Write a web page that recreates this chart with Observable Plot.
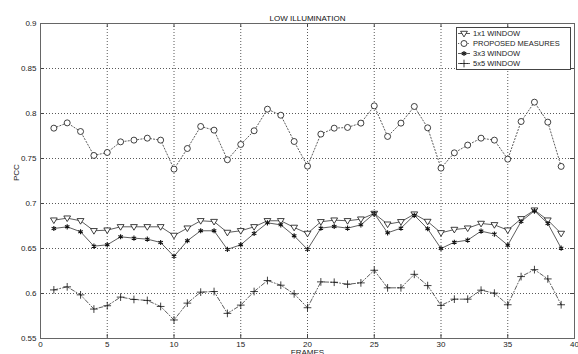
<!DOCTYPE html>
<html>
<head>
<meta charset="utf-8">
<script src="https://cdn.jsdelivr.net/npm/d3@7"></script>
<script src="https://cdn.jsdelivr.net/npm/@observablehq/plot@0.6"></script>
<style>
  body { margin: 0; background: #fff; }
  #wrap { position: relative; width: 578px; height: 354px; overflow: hidden; font-family: "Liberation Sans", Arial, sans-serif; }
  #legend { position: absolute; left: 456px; top: 27px; }
</style>
</head>
<body>
<div id="wrap"><div id="chart"></div><div id="legend"></div></div>
<script>
const frames = [1,2,3,4,5,6,7,8,9,10,11,12,13,14,15,16,17,18,19,20,21,22,23,24,25,26,27,28,29,30,31,32,33,34,35,36,37,38,39];
const win1x1 = [0.6815,0.6837,0.6808,0.6697,0.6704,0.6741,0.6741,0.6741,0.6741,0.6645,0.6726,0.6808,0.6799,0.6678,0.6697,0.6741,0.6808,0.6808,0.6734,0.6667,0.6797,0.6815,0.6808,0.6826,0.6889,0.6770,0.6797,0.6882,0.6800,0.6674,0.6711,0.6726,0.6778,0.6763,0.6704,0.6830,0.6926,0.6815,0.6667];
const proposed = [0.7837,0.7896,0.7800,0.7534,0.7567,0.7685,0.7704,0.7726,0.7704,0.7382,0.7611,0.7856,0.7815,0.7486,0.7656,0.7808,0.8048,0.7981,0.7689,0.7415,0.7771,0.7837,0.7845,0.7893,0.8085,0.7745,0.7893,0.8078,0.7841,0.7393,0.7563,0.7649,0.7726,0.7704,0.7493,0.7911,0.8126,0.7904,0.7412];
const win3x3 = [0.6722,0.6741,0.6686,0.6526,0.6541,0.6630,0.6615,0.6604,0.6567,0.6413,0.6586,0.6697,0.6697,0.6490,0.6541,0.6667,0.6785,0.6763,0.6641,0.6490,0.6726,0.6745,0.6726,0.6763,0.6889,0.6674,0.6726,0.6870,0.6719,0.6500,0.6570,0.6593,0.6693,0.6660,0.6537,0.6800,0.6919,0.6778,0.6504];
const win5x5 = [0.6040,0.6074,0.5985,0.5827,0.5864,0.5960,0.5934,0.5923,0.5856,0.5706,0.5893,0.6015,0.6022,0.5779,0.5871,0.6022,0.6144,0.6092,0.5996,0.5842,0.6129,0.6125,0.6103,0.6118,0.6258,0.6063,0.6063,0.6213,0.6088,0.5868,0.5937,0.5937,0.6037,0.6004,0.5875,0.6188,0.6265,0.6162,0.5875];
const xTicks = [0,5,10,15,20,25,30,35,40];
const yTicks = [0.55,0.6,0.65,0.7,0.75,0.8,0.85,0.9];
const seriesNames = ["1x1 WINDOW","PROPOSED MEASURES","3x3 WINDOW","5x5 WINDOW"];
const title = "LOW ILLUMINATION";
const xLabel = "FRAMES";
const yLabel = "PCC";

const triDown = {
  draw(ctx, size) {
    const r = Math.sqrt(size / Math.PI);
    ctx.moveTo(-r, -0.65 * r);
    ctx.lineTo(r, -0.65 * r);
    ctx.lineTo(0, r);
    ctx.closePath();
  }
};

const rows = (vals) => frames.map((f, i) => ({f, v: vals[i]}));
const W = 578, H = 354, mL = 40, mR = 4, mT = 23, mB = 16;
const pw = W - mL - mR, ph = H - mT - mB;
const lineCol = "#333";

const styles = [
  {vals: win1x1, dash: null, symbol: triDown, r: 3.4, fill: "white", sw: 0.8},
  {vals: proposed, dash: "1.2,2", symbol: "circle", r: 3.0, fill: "white", sw: 0.8},
  {vals: win3x3, dash: null, symbol: "asterisk", r: 2.4, fill: "none", sw: 1.1},
  {vals: win5x5, dash: "4,2,1,2", symbol: "plus", r: 2.6, fill: "none", sw: 0.8}
];

const marks = [
  Plot.gridX(xTicks.slice(1, -1), {stroke: "#222", strokeOpacity: 0.75, strokeDasharray: "1,2"}),
  Plot.gridY(yTicks.slice(1, -1), {stroke: "#222", strokeOpacity: 0.75, strokeDasharray: "1,2"}),
  // inward ticks
  Plot.gridX(xTicks, {stroke: "#444", strokeOpacity: 1, insetBottom: ph - 4}),
  Plot.gridX(xTicks, {stroke: "#444", strokeOpacity: 1, insetTop: ph - 4}),
  Plot.gridY(yTicks, {stroke: "#444", strokeOpacity: 1, insetRight: pw - 4}),
  Plot.gridY(yTicks, {stroke: "#444", strokeOpacity: 1, insetLeft: pw - 4}),
  Plot.frame({stroke: "#666"}),
  Plot.axisX(xTicks, {tickSize: 0, tickPadding: 3, fontSize: 8, fill: "#222", label: null}),
  Plot.axisY(yTicks, {tickSize: 0, tickPadding: 4, fontSize: 8, fill: "#222", label: null, tickFormat: d => String(+d.toFixed(2))}),
  Plot.text([title], {frameAnchor: "top", dy: -8, fontSize: 8, fill: "#111"}),
  Plot.text([xLabel], {frameAnchor: "bottom", dy: 16.5, fontSize: 8, fill: "#222"}),
  Plot.text([yLabel], {frameAnchor: "left", dx: -24, rotate: -90, fontSize: 8, fill: "#222"})
];
for (const s of styles) {
  marks.push(Plot.line(rows(s.vals), {x: "f", y: "v", stroke: lineCol, strokeWidth: 0.8, strokeDasharray: s.dash}));
}
for (const s of styles) {
  marks.push(Plot.dot(rows(s.vals), {x: "f", y: "v", symbol: s.symbol, r: s.r, stroke: "#111", fill: s.fill, strokeWidth: s.sw}));
}

const chart = Plot.plot({
  width: W, height: H,
  marginLeft: mL, marginRight: mR, marginTop: mT, marginBottom: mB,
  style: {fontFamily: "'Liberation Sans', Arial, sans-serif", background: "white"},
  x: {domain: [0, 40]},
  y: {domain: [0.55, 0.9]},
  marks
});
document.getElementById("chart").appendChild(chart);

// Legend
const lw = 115, lh = 43;
const leg = d3.select("#legend").append("svg").attr("width", lw).attr("height", lh);
leg.append("rect").attr("x", 0.5).attr("y", 0.5).attr("width", lw - 1).attr("height", lh - 1)
  .attr("fill", "white").attr("stroke", "#444");
const symMap = {circle: d3.symbolCircle, asterisk: d3.symbolAsterisk, plus: d3.symbolPlus};
seriesNames.forEach((name, i) => {
  const s = styles[i];
  const cy = 6.5 + i * 10;
  leg.append("line").attr("x1", 2).attr("x2", 14).attr("y1", cy).attr("y2", cy)
    .attr("stroke", lineCol).attr("stroke-width", 0.8).attr("stroke-dasharray", s.dash);
  const type = typeof s.symbol === "string" ? symMap[s.symbol] : s.symbol;
  leg.append("path").attr("transform", `translate(8,${cy})`)
    .attr("d", d3.symbol(type, s.r * s.r * Math.PI)())
    .attr("fill", s.fill).attr("stroke", "#111").attr("stroke-width", s.sw);
  leg.append("text").attr("x", 17).attr("y", cy).attr("dy", "0.35em")
    .attr("font-size", 7.5).attr("fill", "#222")
    .attr("font-family", "'Liberation Sans', Arial, sans-serif").text(name);
});
</script>
</body>
</html>
